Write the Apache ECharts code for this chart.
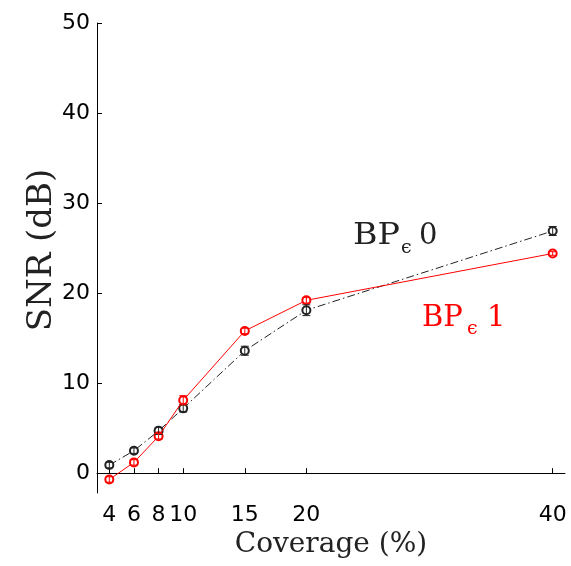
<!DOCTYPE html>
<html>
<head>
<meta charset="utf-8">
<script src="https://cdn.jsdelivr.net/npm/echarts@6/dist/echarts.min.js"></script>
<style>
  html, body { margin: 0; padding: 0; background: #fff; }
  #chart { width: 571px; height: 566px; }
</style>
</head>
<body>
<div id="chart"></div>
<script>
// coverage (%) on the x axis
var coverage = [4, 6, 8, 10, 15, 20, 40]
var xTicks = [4, 6, 8, 10, 15, 20, 40]
var yTicks = [0, 10, 20, 30, 40, 50]

// BPe0 (black, dash-dot)
var snr0 = [0.9, 2.5, 4.7, 7.2, 13.6, 18.1, 26.9]
var err0 = [0.3, 0.3, 0.4, 0.4, 0.5, 0.6, 0.5]
// BPe1 (red, solid)
var snr1 = [-0.7, 1.2, 4.1, 8.1, 15.8, 19.2, 24.4]
var err1 = [0.3, 0.3, 0.3, 0.5, 0.3, 0.3, 0.2]

function pairs(ys) {
  return coverage.map(function (x, i) { return [x, ys[i]] })
}
function errData(ys, es) {
  return coverage.map(function (x, i) { return [x, ys[i] - es[i], ys[i] + es[i]] })
}
function errRender(color) {
  return function (params, api) {
    var lo = api.coord([api.value(0), api.value(1)])
    var hi = api.coord([api.value(0), api.value(2)])
    var w = 4
    var st = { stroke: color, lineWidth: 1 }
    return {
      type: 'group',
      children: [
        { type: 'line', shape: { x1: lo[0], y1: lo[1], x2: hi[0], y2: hi[1] }, style: st },
        { type: 'line', shape: { x1: lo[0] - w, y1: lo[1], x2: lo[0] + w, y2: lo[1] }, style: st },
        { type: 'line', shape: { x1: hi[0] - w, y1: hi[1], x2: hi[0] + w, y2: hi[1] }, style: st }
      ]
    }
  }
}

var chart = echarts.init(document.getElementById('chart'))

var option = {
  animation: false,
  grid: { left: 97, right: 6, top: 23, bottom: 73 },
  xAxis: {
    type: 'value',
    min: 3,
    max: 41,
    name: 'Coverage (%)',
    nameLocation: 'middle',
    nameGap: 38,
    nameTextStyle: { fontFamily: 'DejaVu Serif', fontSize: 28, color: '#222' },
    axisLine: { lineStyle: { color: '#000', width: 1 } },
    axisTick: { inside: true, length: 5, customValues: xTicks, lineStyle: { color: '#000' } },
    axisLabel: { customValues: xTicks, margin: 11, fontFamily: 'DejaVu Sans', fontSize: 22, color: '#000' },
    splitLine: { show: false }
  },
  yAxis: {
    type: 'value',
    min: -2.2,
    max: 50,
    name: 'SNR (dB)',
    nameLocation: 'middle',
    nameGap: 38,
    nameMoveOverlap: false,
    nameTextStyle: { fontFamily: 'DejaVu Serif', fontSize: 34, color: '#222', padding: [0, 0, 0, 16] },
    axisLine: { show: true, lineStyle: { color: '#000', width: 1 } },
    axisTick: { show: true, inside: true, length: 5, customValues: yTicks, lineStyle: { color: '#000' } },
    axisLabel: { customValues: yTicks, margin: 7, fontFamily: 'DejaVu Sans', fontSize: 22, color: '#000' },
    splitLine: { show: false }
  },
  graphic: [
    { type: 'text', left: 353, top: 222, scaleX: 1.15, style: { text: 'BP', font: '29px "DejaVu Serif"', fill: '#222' } },
    { type: 'text', left: 401, top: 239, style: { text: 'ϵ', font: '19px "DejaVu Serif"', fill: '#222' } },
    { type: 'text', left: 419, top: 222, style: { text: '0', font: '29px "DejaVu Serif"', fill: '#222' } },
    { type: 'text', left: 422, top: 304, style: { text: 'BP', font: '29px "DejaVu Serif"', fill: '#ff0000' } },
    { type: 'text', left: 467, top: 320, style: { text: 'ϵ', font: '19px "DejaVu Serif"', fill: '#ff0000' } },
    { type: 'text', left: 487, top: 304, style: { text: '1', font: '29px "DejaVu Serif"', fill: '#ff0000' } }
  ],
  series: [
    {
      name: 'BPe0',
      type: 'line',
      data: pairs(snr0),
      symbol: 'emptyCircle',
      symbolSize: 8,
      lineStyle: { color: '#222', width: 1, type: [8, 3, 1.5, 3] },
      itemStyle: { color: '#222', borderWidth: 1 },
      z: 2
    },
    {
      name: 'BPe1',
      type: 'line',
      data: pairs(snr1),
      symbol: 'emptyCircle',
      symbolSize: 8,
      lineStyle: { color: '#ff0000', width: 1 },
      itemStyle: { color: '#ff0000', borderWidth: 1 },
      z: 3
    },
    {
      type: 'custom',
      data: errData(snr0, err0),
      renderItem: errRender('#222'),
      encode: { x: 0, y: [1, 2] },
      z: 4
    },
    {
      type: 'custom',
      data: errData(snr1, err1),
      renderItem: errRender('#ff0000'),
      encode: { x: 0, y: [1, 2] },
      z: 5
    }
  ]
}

chart.setOption(option)
</script>
</body>
</html>
